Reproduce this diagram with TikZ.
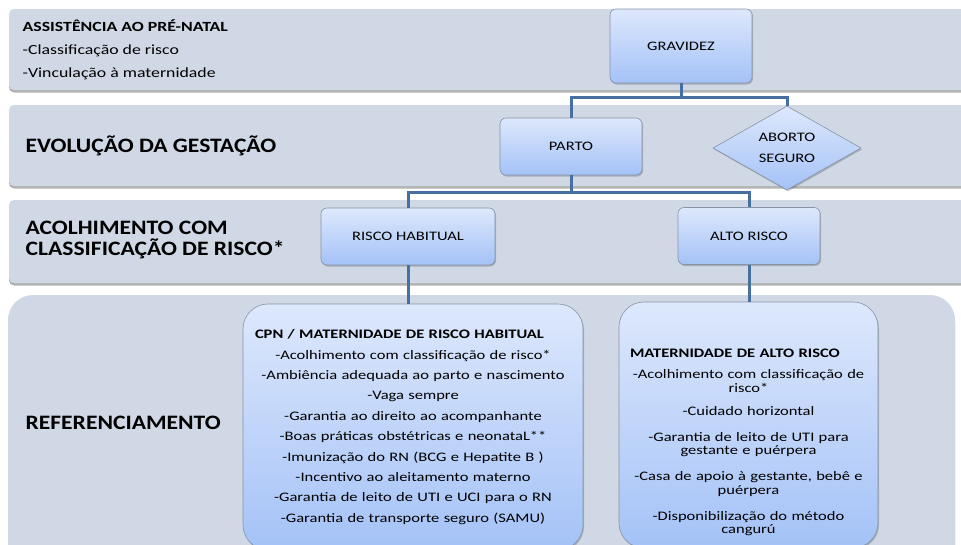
\documentclass[tikz,border=0pt]{standalone}
\usepackage{fontspec}
\setmainfont{Carlito}
\newfontfamily\calw[FakeStretch=1.27]{Carlito}
\newfontfamily\calm[FakeStretch=1.15]{Carlito}
\usetikzlibrary{positioning,shapes,shadows}

\definecolor{bandfill}{HTML}{D0D8E6}
\definecolor{boxtop}{HTML}{DDE8FC}
\definecolor{boxbot}{HTML}{A4C2F7}
\definecolor{boxline}{HTML}{8793A6}
\definecolor{connblue}{HTML}{4770A2}

\tikzset{elbow/.style={to path={-- ++(0,#1) -| (\tikztotarget)}}}

\begin{document}
\begin{tikzpicture} [x=1pt,y=-1pt,line width=0.6pt,
  band/.style={fill=bandfill,rounded corners=5pt,
    drop shadow={shadow xshift=0pt,shadow yshift=-2.5pt,fill=black,opacity=0.3}},
  box/.style={draw=boxline,top color=boxtop,bottom color=boxbot,rounded corners=6pt,
    align=center,font=\calw\fontsize{13}{21}\selectfont,
    drop shadow={shadow xshift=1pt,shadow yshift=-1.5pt,fill=black,opacity=0.2}},
  lane/.style={anchor=west,align=left,font=\calw\fontsize{14}{23}\selectfont},
  bigwide/.style={font=\calm\fontsize{20.5}{21}\selectfont\bfseries}]

  \useasboundingbox (0,0) rectangle (961,544);
  \clip (0,0) rectangle (961,544);

  % lanes
  \path[band] (9,9) rectangle (980,90);
  \path[band] (9,105) rectangle (980,186);
  \path[band] (9,200) rectangle (980,283);
  \path[band,rounded corners=25pt] (8,295) rectangle (955,580);

  \node[lane] (a) at (19,50) {\textbf{ASSISTÊNCIA AO PRÉ-NATAL}\\-Classificação de risco\\-Vinculação à maternidade};
  \node[lane,bigwide] (b) at (22,146) {EVOLUÇÃO DA GESTAÇÃO};
  \node[lane,bigwide] (c) at (22,240) {ACOLHIMENTO COM\\CLASSIFICAÇÃO DE RISCO*};
  \node[lane,bigwide] (d) at (22,423) {REFERENCIAMENTO};

  % flow
  \node[box,minimum width=142pt,minimum height=74pt] (1) at (681,46) {GRAVIDEZ};
  \node[box,minimum width=142pt,minimum height=57pt] (2) at (571,146.5) {PARTO};
  \node[box,diamond,rounded corners=0pt,aspect=1.76,inner sep=0pt,
        minimum width=148pt,minimum height=84pt] (3) at (787,148) {ABORTO\\SEGURO};
  \node[box,minimum width=174pt,minimum height=57pt] (4) at (408,236.5) {RISCO HABITUAL};
  \node[box,minimum width=142pt,minimum height=57pt] (5) at (749,236) {ALTO RISCO};

  \node[box,rounded corners=25pt,minimum width=340pt,minimum height=246pt,
        text width=316pt,inner xsep=12pt,font=\calw\fontsize{13}{20.4}\selectfont] (6) at (413,427)
    {\makebox[\linewidth][l]{\bfseries CPN / MATERNIDADE DE RISCO HABITUAL}\\
     -Acolhimento com classificação de risco*\\
     -Ambiência adequada ao parto e nascimento\\
     -Vaga sempre\\
     -Garantia ao direito ao acompanhante\\
     -Boas práticas obstétricas e neonataL**\\
     -Imunização do RN (BCG e Hepatite B )\\
     -Incentivo ao aleitamento materno\\
     -Garantia de leito de UTI e UCI para o RN\\
     -Garantia de transporte seguro (SAMU)};

  \node[box,rounded corners=25pt,minimum width=259pt,minimum height=246pt,
        text width=237pt,inner xsep=11pt,font=\calw\fontsize{13}{13.5}\selectfont] (7) at (748.5,425)
    {\makebox[\linewidth][l]{\rule{0pt}{44pt}\bfseries MATERNIDADE DE ALTO RISCO}\\[7.5pt]
     -Acolhimento com classificação de\\ risco*\\[9.5pt]
     -Cuidado horizontal\\[12.5pt]
     -Garantia de leito de UTI para\\ gestante e puérpera\\[12.5pt]
     -Casa de apoio à gestante, bebê e\\ puérpera\\[12.5pt]
     -Disponibilização do método\\ cangurú};

  \path[conn/.style={draw=connblue,line width=3pt},conn]
    (1.south) edge[elbow=14] (2.north)
              edge[elbow=14] (3.north)
    (2.south) edge[elbow=17] (4.north)
              edge[elbow=17] (5.north)
    (4.south) edge (4.south |- 6.north)
    (5.south) edge (5.south |- 7.north);

\end{tikzpicture}
\end{document}
